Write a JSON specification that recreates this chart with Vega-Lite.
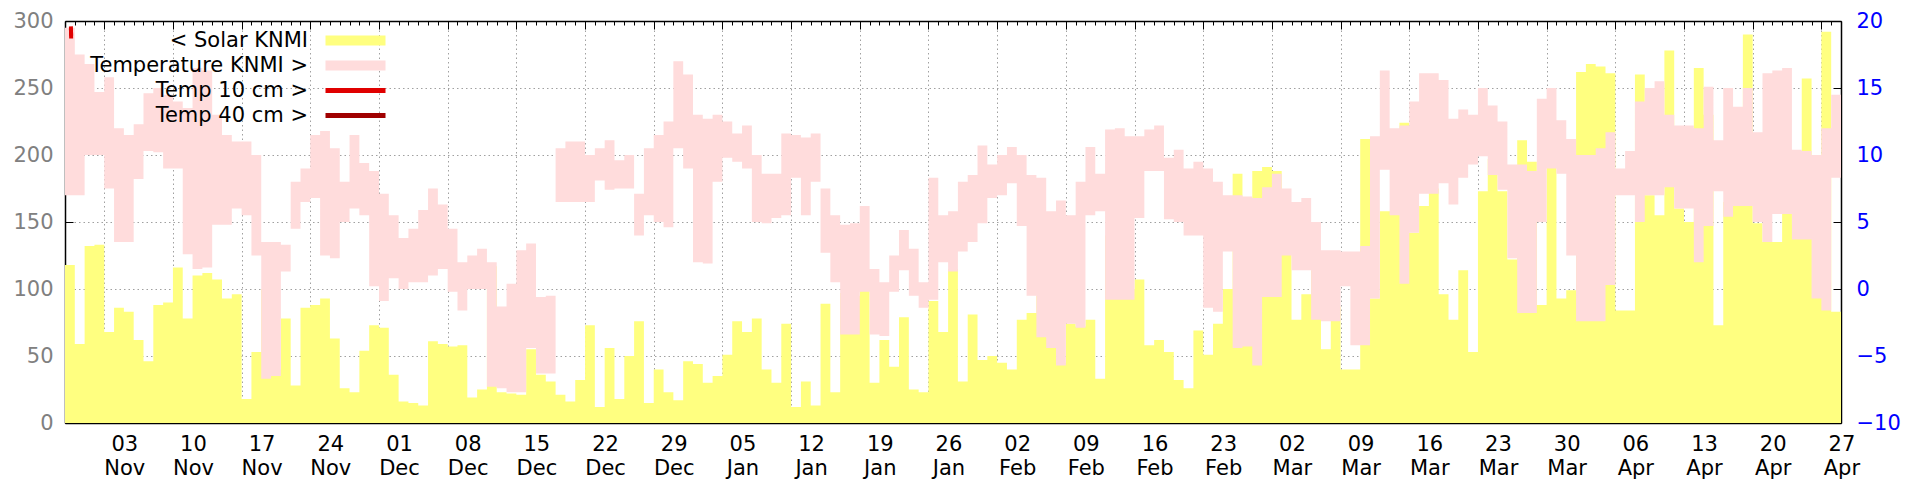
{
"$schema": "https://vega.github.io/schema/vega-lite/v6.json",
"width": 1776, "height": 402,
"autosize": {"type": "none"},
"padding": {"left": 65, "top": 21, "right": 79, "bottom": 57},
"background": "white",
"config": {
  "view": {"stroke": null},
  "font": "DejaVu Sans",
  "axis": {"labelFont": "DejaVu Sans", "labelFontSize": 21, "title": null, "domainColor": "black", "domainWidth": 1.5, "tickColor": "black", "tickWidth": 1, "gridColor": "#a0a0a0", "gridDash": [1.5, 3], "gridWidth": 1, "zindex": 1},
  "legend": {"orient": "none", "title": null, "labelAlign": "right", "labelLimit": 600, "labelFontSize": 21, "labelFont": "DejaVu Sans", "labelColor": "black", "rowPadding": 3, "padding": 0, "offset": 0}
},
"datasets": {
"daily": [
{"date":"2024-10-30","solar":118,"tmax":19.5,"tmin":7.0},
{"date":"2024-10-31","solar":59,"tmax":17.5,"tmin":7.0},
{"date":"2024-11-01","solar":132,"tmax":16.8,"tmin":10.0},
{"date":"2024-11-02","solar":133,"tmax":14.7,"tmin":10.0},
{"date":"2024-11-03","solar":68,"tmax":15.8,"tmin":7.5},
{"date":"2024-11-04","solar":86,"tmax":12.0,"tmin":3.5},
{"date":"2024-11-05","solar":83,"tmax":11.5,"tmin":3.5},
{"date":"2024-11-06","solar":62,"tmax":12.3,"tmin":8.2},
{"date":"2024-11-07","solar":46,"tmax":14.6,"tmin":10.3},
{"date":"2024-11-08","solar":88,"tmax":15.0,"tmin":10.2},
{"date":"2024-11-09","solar":90,"tmax":14.5,"tmin":9.0},
{"date":"2024-11-10","solar":116,"tmax":14.0,"tmin":9.0},
{"date":"2024-11-11","solar":78,"tmax":13.5,"tmin":2.6},
{"date":"2024-11-12","solar":110,"tmax":16.5,"tmin":1.5},
{"date":"2024-11-13","solar":112,"tmax":16.3,"tmin":1.6},
{"date":"2024-11-14","solar":107,"tmax":13.0,"tmin":4.8},
{"date":"2024-11-15","solar":93,"tmax":11.5,"tmin":4.8},
{"date":"2024-11-16","solar":96,"tmax":11.0,"tmin":6.0},
{"date":"2024-11-17","solar":18,"tmax":11.0,"tmin":5.5},
{"date":"2024-11-18","solar":53,"tmax":10.0,"tmin":2.5},
{"date":"2024-11-19","solar":100,"tmax":3.5,"tmin":-6.7},
{"date":"2024-11-20","solar":40,"tmax":3.5,"tmin":-6.5},
{"date":"2024-11-21","solar":78,"tmax":3.3,"tmin":1.3},
{"date":"2024-11-22","solar":28,"tmax":8.0,"tmin":4.5},
{"date":"2024-11-23","solar":86,"tmax":9.0,"tmin":6.5},
{"date":"2024-11-24","solar":88,"tmax":11.5,"tmin":6.8},
{"date":"2024-11-25","solar":93,"tmax":11.8,"tmin":2.5},
{"date":"2024-11-26","solar":63,"tmax":10.5,"tmin":2.3},
{"date":"2024-11-27","solar":26,"tmax":8.0,"tmin":5.0},
{"date":"2024-11-28","solar":23,"tmax":11.5,"tmin":6.0},
{"date":"2024-11-29","solar":54,"tmax":9.4,"tmin":5.5},
{"date":"2024-11-30","solar":73,"tmax":8.8,"tmin":0.2},
{"date":"2024-12-01","solar":71,"tmax":7.1,"tmin":-0.9},
{"date":"2024-12-02","solar":36,"tmax":5.5,"tmin":0.8},
{"date":"2024-12-03","solar":16,"tmax":3.8,"tmin":0.0},
{"date":"2024-12-04","solar":15,"tmax":4.5,"tmin":0.5},
{"date":"2024-12-05","solar":13,"tmax":5.9,"tmin":0.5},
{"date":"2024-12-06","solar":61,"tmax":7.5,"tmin":1.0},
{"date":"2024-12-07","solar":59,"tmax":6.3,"tmin":1.5},
{"date":"2024-12-08","solar":57,"tmax":4.5,"tmin":-0.2},
{"date":"2024-12-09","solar":58,"tmax":2.0,"tmin":-1.6},
{"date":"2024-12-10","solar":19,"tmax":2.5,"tmin":0.0},
{"date":"2024-12-11","solar":25,"tmax":3.0,"tmin":0.0},
{"date":"2024-12-12","solar":117,"tmax":2.0,"tmin":-7.3},
{"date":"2024-12-13","solar":23,"tmax":-1.3,"tmin":-7.4},
{"date":"2024-12-14","solar":22,"tmax":0.4,"tmin":-7.7},
{"date":"2024-12-15","solar":21,"tmax":2.9,"tmin":-7.7},
{"date":"2024-12-16","solar":55,"tmax":3.4,"tmin":-4.4},
{"date":"2024-12-17","solar":36,"tmax":-0.6,"tmin":-6.3},
{"date":"2024-12-18","solar":31,"tmax":-0.5,"tmin":-6.3},
{"date":"2024-12-19","solar":21,"tmax":10.5,"tmin":6.5},
{"date":"2024-12-20","solar":16,"tmax":11.0,"tmin":6.5},
{"date":"2024-12-21","solar":32,"tmax":11.0,"tmin":6.5},
{"date":"2024-12-22","solar":73,"tmax":10.0,"tmin":6.5},
{"date":"2024-12-23","solar":12,"tmax":10.5,"tmin":8.1},
{"date":"2024-12-24","solar":56,"tmax":11.1,"tmin":7.4},
{"date":"2024-12-25","solar":18,"tmax":9.6,"tmin":7.5},
{"date":"2024-12-26","solar":50,"tmax":10.0,"tmin":7.5},
{"date":"2024-12-27","solar":76,"tmax":7.1,"tmin":4.0},
{"date":"2024-12-28","solar":15,"tmax":10.5,"tmin":5.5},
{"date":"2024-12-29","solar":40,"tmax":11.5,"tmin":5.0},
{"date":"2024-12-30","solar":23,"tmax":12.5,"tmin":4.6},
{"date":"2024-12-31","solar":17,"tmax":17.0,"tmin":10.5},
{"date":"2025-01-01","solar":46,"tmax":16.0,"tmin":9.0},
{"date":"2025-01-02","solar":44,"tmax":13.0,"tmin":2.0},
{"date":"2025-01-03","solar":30,"tmax":12.7,"tmin":1.9},
{"date":"2025-01-04","solar":35,"tmax":13.0,"tmin":8.0},
{"date":"2025-01-05","solar":51,"tmax":12.5,"tmin":9.8},
{"date":"2025-01-06","solar":76,"tmax":11.6,"tmin":9.5},
{"date":"2025-01-07","solar":68,"tmax":12.2,"tmin":9.0},
{"date":"2025-01-08","solar":78,"tmax":10.0,"tmin":5.0},
{"date":"2025-01-09","solar":40,"tmax":8.6,"tmin":4.9},
{"date":"2025-01-10","solar":30,"tmax":8.6,"tmin":5.3},
{"date":"2025-01-11","solar":74,"tmax":11.6,"tmin":5.5},
{"date":"2025-01-12","solar":12,"tmax":11.5,"tmin":8.3},
{"date":"2025-01-13","solar":31,"tmax":11.3,"tmin":5.5},
{"date":"2025-01-14","solar":13,"tmax":11.6,"tmin":8.0},
{"date":"2025-01-15","solar":89,"tmax":7.5,"tmin":2.7},
{"date":"2025-01-16","solar":23,"tmax":5.5,"tmin":0.5},
{"date":"2025-01-17","solar":97,"tmax":4.8,"tmin":-3.4},
{"date":"2025-01-18","solar":95,"tmax":4.9,"tmin":-3.4},
{"date":"2025-01-19","solar":105,"tmax":6.2,"tmin":-0.2},
{"date":"2025-01-20","solar":30,"tmax":1.5,"tmin":-3.4},
{"date":"2025-01-21","solar":62,"tmax":0.5,"tmin":-3.5},
{"date":"2025-01-22","solar":42,"tmax":2.5,"tmin":-0.2},
{"date":"2025-01-23","solar":79,"tmax":4.4,"tmin":1.4},
{"date":"2025-01-24","solar":25,"tmax":3.0,"tmin":-0.5},
{"date":"2025-01-25","solar":23,"tmax":0.5,"tmin":-1.4},
{"date":"2025-01-26","solar":91,"tmax":8.3,"tmin":-0.8},
{"date":"2025-01-27","solar":68,"tmax":5.5,"tmin":2.0},
{"date":"2025-01-28","solar":115,"tmax":5.8,"tmin":1.3},
{"date":"2025-01-29","solar":31,"tmax":8.0,"tmin":2.8},
{"date":"2025-01-30","solar":81,"tmax":8.5,"tmin":3.5},
{"date":"2025-01-31","solar":47,"tmax":10.7,"tmin":4.9},
{"date":"2025-02-01","solar":50,"tmax":9.3,"tmin":6.8},
{"date":"2025-02-02","solar":45,"tmax":10.0,"tmin":7.0},
{"date":"2025-02-03","solar":40,"tmax":10.6,"tmin":7.9},
{"date":"2025-02-04","solar":77,"tmax":10.0,"tmin":4.7},
{"date":"2025-02-05","solar":82,"tmax":8.5,"tmin":-0.5},
{"date":"2025-02-06","solar":95,"tmax":8.3,"tmin":-3.6},
{"date":"2025-02-07","solar":64,"tmax":5.8,"tmin":-4.4},
{"date":"2025-02-08","solar":45,"tmax":6.6,"tmin":-5.7},
{"date":"2025-02-09","solar":74,"tmax":5.5,"tmin":-2.6},
{"date":"2025-02-10","solar":72,"tmax":8.0,"tmin":-2.9},
{"date":"2025-02-11","solar":77,"tmax":10.6,"tmin":5.5},
{"date":"2025-02-12","solar":33,"tmax":8.6,"tmin":5.8},
{"date":"2025-02-13","solar":140,"tmax":11.9,"tmin":-0.8},
{"date":"2025-02-14","solar":100,"tmax":12.0,"tmin":-0.8},
{"date":"2025-02-15","solar":100,"tmax":11.4,"tmin":-0.8},
{"date":"2025-02-16","solar":107,"tmax":11.4,"tmin":5.3},
{"date":"2025-02-17","solar":58,"tmax":11.9,"tmin":8.8},
{"date":"2025-02-18","solar":62,"tmax":12.2,"tmin":8.8},
{"date":"2025-02-19","solar":53,"tmax":9.8,"tmin":5.2},
{"date":"2025-02-20","solar":32,"tmax":10.4,"tmin":5.0},
{"date":"2025-02-21","solar":26,"tmax":9.0,"tmin":4.0},
{"date":"2025-02-22","solar":69,"tmax":9.5,"tmin":4.0},
{"date":"2025-02-23","solar":51,"tmax":9.0,"tmin":-1.4},
{"date":"2025-02-24","solar":74,"tmax":8.0,"tmin":-1.7},
{"date":"2025-02-25","solar":100,"tmax":7.0,"tmin":2.8},
{"date":"2025-02-26","solar":186,"tmax":7.0,"tmin":-4.4},
{"date":"2025-02-27","solar":100,"tmax":6.9,"tmin":-4.3},
{"date":"2025-02-28","solar":188,"tmax":6.8,"tmin":-5.7},
{"date":"2025-03-01","solar":191,"tmax":7.6,"tmin":-0.6},
{"date":"2025-03-02","solar":188,"tmax":8.6,"tmin":-0.6},
{"date":"2025-03-03","solar":150,"tmax":7.5,"tmin":2.5},
{"date":"2025-03-04","solar":77,"tmax":6.5,"tmin":1.4},
{"date":"2025-03-05","solar":96,"tmax":6.8,"tmin":1.4},
{"date":"2025-03-06","solar":114,"tmax":5.0,"tmin":-2.3},
{"date":"2025-03-07","solar":55,"tmax":2.9,"tmin":-2.4},
{"date":"2025-03-08","solar":87,"tmax":2.9,"tmin":-2.4},
{"date":"2025-03-09","solar":40,"tmax":2.8,"tmin":0.2},
{"date":"2025-03-10","solar":40,"tmax":2.8,"tmin":-4.2},
{"date":"2025-03-11","solar":212,"tmax":3.2,"tmin":-4.2},
{"date":"2025-03-12","solar":93,"tmax":11.4,"tmin":-0.7},
{"date":"2025-03-13","solar":158,"tmax":16.3,"tmin":8.9},
{"date":"2025-03-14","solar":158,"tmax":12.0,"tmin":5.5},
{"date":"2025-03-15","solar":224,"tmax":12.2,"tmin":0.4},
{"date":"2025-03-16","solar":142,"tmax":14.0,"tmin":4.2},
{"date":"2025-03-17","solar":162,"tmax":16.1,"tmin":7.1},
{"date":"2025-03-18","solar":175,"tmax":16.1,"tmin":7.1},
{"date":"2025-03-19","solar":96,"tmax":15.6,"tmin":7.9},
{"date":"2025-03-20","solar":77,"tmax":12.7,"tmin":6.3},
{"date":"2025-03-21","solar":114,"tmax":13.4,"tmin":8.3},
{"date":"2025-03-22","solar":53,"tmax":13.0,"tmin":9.3},
{"date":"2025-03-23","solar":173,"tmax":15.0,"tmin":9.9},
{"date":"2025-03-24","solar":197,"tmax":13.7,"tmin":8.5},
{"date":"2025-03-25","solar":173,"tmax":12.5,"tmin":7.4},
{"date":"2025-03-26","solar":122,"tmax":9.3,"tmin":2.3},
{"date":"2025-03-27","solar":211,"tmax":9.3,"tmin":-1.8},
{"date":"2025-03-28","solar":195,"tmax":8.8,"tmin":-1.8},
{"date":"2025-03-29","solar":88,"tmax":14.2,"tmin":5.0},
{"date":"2025-03-30","solar":199,"tmax":15.0,"tmin":9.0},
{"date":"2025-03-31","solar":93,"tmax":12.6,"tmin":8.6},
{"date":"2025-04-01","solar":99,"tmax":11.2,"tmin":2.5},
{"date":"2025-04-02","solar":262,"tmax":10.0,"tmin":-2.4},
{"date":"2025-04-03","solar":268,"tmax":10.0,"tmin":-2.4},
{"date":"2025-04-04","solar":266,"tmax":10.5,"tmin":-2.4},
{"date":"2025-04-05","solar":261,"tmax":11.7,"tmin":0.3},
{"date":"2025-04-06","solar":84,"tmax":9.0,"tmin":7.0},
{"date":"2025-04-07","solar":84,"tmax":10.3,"tmin":7.0},
{"date":"2025-04-08","solar":260,"tmax":14.0,"tmin":5.0},
{"date":"2025-04-09","solar":170,"tmax":15.0,"tmin":7.0},
{"date":"2025-04-10","solar":155,"tmax":15.5,"tmin":7.0},
{"date":"2025-04-11","solar":278,"tmax":13.0,"tmin":7.6},
{"date":"2025-04-12","solar":160,"tmax":12.2,"tmin":6.0},
{"date":"2025-04-13","solar":150,"tmax":12.2,"tmin":6.0},
{"date":"2025-04-14","solar":265,"tmax":12.0,"tmin":2.0},
{"date":"2025-04-15","solar":230,"tmax":15.1,"tmin":4.7},
{"date":"2025-04-16","solar":73,"tmax":11.1,"tmin":7.3},
{"date":"2025-04-17","solar":165,"tmax":15.0,"tmin":5.4},
{"date":"2025-04-18","solar":165,"tmax":13.6,"tmin":6.2},
{"date":"2025-04-19","solar":290,"tmax":15.0,"tmin":6.2},
{"date":"2025-04-20","solar":149,"tmax":11.7,"tmin":5.0},
{"date":"2025-04-21","solar":135,"tmax":16.1,"tmin":3.5},
{"date":"2025-04-22","solar":135,"tmax":16.3,"tmin":5.6},
{"date":"2025-04-23","solar":179,"tmax":16.5,"tmin":5.6},
{"date":"2025-04-24","solar":148,"tmax":10.4,"tmin":3.7},
{"date":"2025-04-25","solar":257,"tmax":10.3,"tmin":3.7},
{"date":"2025-04-26","solar":197,"tmax":10.0,"tmin":-0.7},
{"date":"2025-04-27","solar":292,"tmax":12.0,"tmin":-1.6},
{"date":"2025-04-28","solar":83,"tmax":14.5,"tmin":8.3},
{"date":"2025-04-29","solar":83,"tmax":14.5,"tmin":8.3}
],
"soil": [
{"time":"2024-10-30T14:30:00Z","series":"40","temp":19.4},
{"time":"2024-10-30T15:00:00Z","series":"40","temp":18.9},
{"time":"2024-10-30T14:30:00Z","series":"10","temp":19.6},
{"time":"2024-10-30T15:00:00Z","series":"10","temp":18.7}
]
},
"layer": [
{
 "data": {"name": "daily"},
 "mark": {"type": "area", "interpolate": "step-after"},
 "encoding": {
  "x": {"field": "date", "type": "temporal",
        "scale": {"type": "utc", "nice": false, "domain": [{"year": 2024, "month": 10, "date": 30, "utc": true}, {"year": 2025, "month": 4, "date": 29, "utc": true}]},
        "axis": {"orient": "bottom", "tickCount": {"interval": "week", "step": 1}, "tickSize": -8, "labelPadding": 18, "labelOffset": 20,
                 "labelExpr": "[utcFormat(datum.value, '%d'), utcFormat(datum.value, '%b')]", "labelLineHeight": 24,
                 "labelOverlap": false, "labelFlush": false, "grid": true, "domain": true, "labelColor": "black"}},
  "y": {"field": "solar", "type": "quantitative", "scale": {"domain": [0, 300], "nice": false},
        "axis": {"orient": "left", "values": [0, 50, 100, 150, 200, 250, 300], "tickSize": -8, "labelPadding": 20, "labelColor": "#808080", "grid": true, "domain": true}},
  "fill": {"datum": "< Solar KNMI", "type": "nominal",
            "scale": {"domain": ["< Solar KNMI", "Temperature KNMI >"], "range": ["#ffff80", "#ffdcdc"]},
            "legend": {"legendX": 280, "legendY": 9, "labelOffset": -58,
                       "symbolType": "M-6,-1.0L6,-1.0L6,1.0L-6,1.0Z", "symbolSize": 100, "symbolStrokeWidth": 0}}
 }
},
{
 "data": {"name": "daily"},
 "mark": {"type": "area", "interpolate": "step-after"},
 "encoding": {
  "x": {"field": "date", "type": "temporal",
        "scale": {"type": "utc", "nice": false, "domain": [{"year": 2024, "month": 10, "date": 30, "utc": true}, {"year": 2025, "month": 4, "date": 29, "utc": true}]},
        "axis": {"orient": "bottom", "tickCount": {"interval": "day", "step": 1}, "tickSize": -4, "labels": false, "grid": false, "domain": false}},
  "y": {"field": "tmin", "type": "quantitative", "scale": {"domain": [-10, 20], "nice": false, "zero": false},
        "axis": {"orient": "right", "values": [-10, -5, 0, 5, 10, 15, 20], "tickSize": -8, "labelPadding": 23, "labelColor": "#0000ff", "labelAlign": "left", "grid": false, "domain": true}},
  "y2": {"field": "tmax"},
  "fill": {"datum": "Temperature KNMI >", "type": "nominal"}
 }
},
{
 "data": {"name": "soil"},
 "transform": [{"filter": "datum.series == '40'"}],
 "mark": {"type": "line", "strokeWidth": 4},
 "encoding": {
  "x": {"field": "time", "type": "temporal",
        "scale": {"type": "utc", "nice": false, "domain": [{"year": 2024, "month": 10, "date": 30, "utc": true}, {"year": 2025, "month": 4, "date": 29, "utc": true}]},
        "axis": {"orient": "top", "tickCount": {"interval": "week", "step": 1}, "tickSize": -8, "labels": false, "grid": false, "domain": true}},
  "y": {"field": "temp", "type": "quantitative", "scale": {"domain": [-10, 20], "nice": false, "zero": false}, "axis": null},
  "stroke": {"datum": "Temp 40 cm >", "type": "nominal",
             "scale": {"domain": ["Temp 10 cm >", "Temp 40 cm >"], "range": ["#e00000", "#a00000"]},
             "legend": {"legendX": 280, "legendY": 59, "labelOffset": -58,
                        "symbolType": "M-6,0L6,0", "symbolSize": 100, "symbolStrokeWidth": 5}}
 }
},
{
 "data": {"name": "soil"},
 "transform": [{"filter": "datum.series == '10'"}],
 "mark": {"type": "line", "strokeWidth": 4},
 "encoding": {
  "x": {"field": "time", "type": "temporal",
        "scale": {"type": "utc", "nice": false, "domain": [{"year": 2024, "month": 10, "date": 30, "utc": true}, {"year": 2025, "month": 4, "date": 29, "utc": true}]},
        "axis": {"orient": "top", "tickCount": {"interval": "day", "step": 1}, "tickSize": -4, "labels": false, "grid": false, "domain": false}},
  "y": {"field": "temp", "type": "quantitative", "scale": {"domain": [-10, 20], "nice": false, "zero": false}, "axis": null},
  "stroke": {"datum": "Temp 10 cm >", "type": "nominal"}
 }
}
],
"resolve": {"scale": {"y": "independent"}, "axis": {"x": "independent", "y": "independent"}}
}
